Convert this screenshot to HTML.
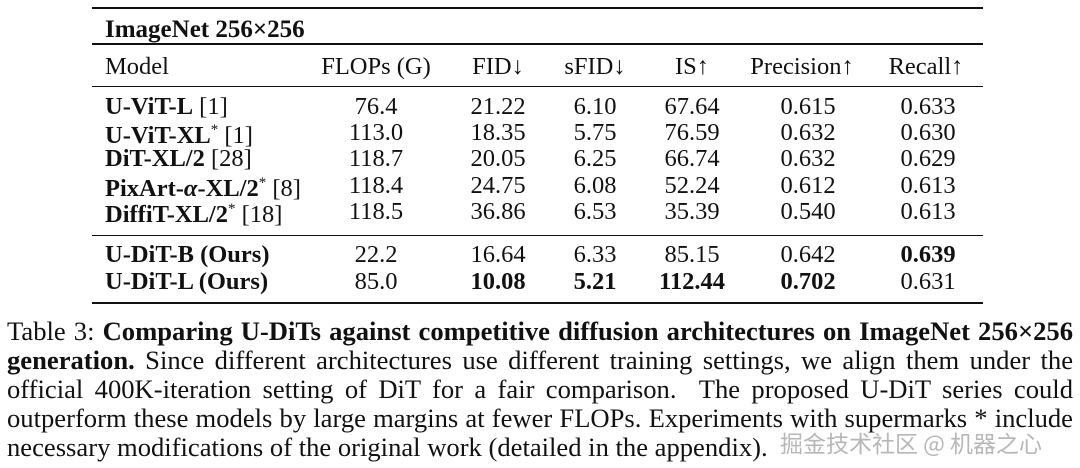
<!DOCTYPE html>
<html><head><meta charset="utf-8"><style>
body{margin:0;width:1080px;height:468px;background:#fff;position:relative;overflow:hidden;font-family:"Liberation Serif","Noto Serif CJK SC",serif;color:#111}
.l{position:absolute;left:92px;width:891px;background:#111}
.t{position:absolute;font-size:24.5px;line-height:26px;white-space:nowrap;transform:translateY(-50%)}
.c{transform:translate(-50%,-50%)}
b{font-weight:bold}
.cap{position:absolute;left:7px;width:1066px;font-size:26.6px;line-height:29px;text-align:justify;top:317px}
.cap div{height:29px;text-align-last:justify;white-space:nowrap;}
.wm{position:absolute;left:780px;top:425px;font-family:"Noto Sans CJK SC",sans-serif;font-size:23px;color:rgba(170,170,170,0.85)}
</style></head><body>
<div class="l" style="top:7px;height:2px"></div>
<div class="l" style="top:43px;height:1.5px"></div>
<div class="l" style="top:86px;height:1px"></div>
<div class="l" style="top:235px;height:1px"></div>
<div class="l" style="top:302px;height:2px"></div>

<div class="t" style="left:105px;top:30px;font-size:25px"><b>ImageNet 256×256</b></div>
<div class="t" style="left:105px;top:67px">Model</div>
<div class="t c" style="left:376px;top:67px">FLOPs (G)</div>
<div class="t c" style="left:498px;top:67px">FID↓</div>
<div class="t c" style="left:595px;top:67px">sFID↓</div>
<div class="t c" style="left:692px;top:67px">IS↑</div>
<div class="t c" style="left:802px;top:67px">Precision↑</div>
<div class="t c" style="left:926px;top:67px">Recall↑</div>

<div class="t" style="left:105px;top:107px"><b>U-ViT-L</b> [1]</div>
<div class="t" style="left:105px;top:133px"><b>U-ViT-XL</b><sup style="font-size:15px">*</sup> [1]</div>
<div class="t" style="left:105px;top:159px"><b>DiT-XL/2</b> [28]</div>
<div class="t" style="left:105px;top:186px"><b>PixArt-<i>α</i>-XL/2</b><sup style="font-size:15px">*</sup> [8]</div>
<div class="t" style="left:105px;top:212px"><b>DiffiT-XL/2</b><sup style="font-size:15px">*</sup> [18]</div>
<div class="t" style="left:105px;top:255px"><b>U-DiT-B (Ours)</b></div>
<div class="t" style="left:105px;top:282px"><b>U-DiT-L (Ours)</b></div>

<div class="t c" style="left:376px;top:107px">76.4</div>
<div class="t c" style="left:376px;top:133px">113.0</div>
<div class="t c" style="left:376px;top:159px">118.7</div>
<div class="t c" style="left:376px;top:186px">118.4</div>
<div class="t c" style="left:376px;top:212px">118.5</div>
<div class="t c" style="left:376px;top:255px">22.2</div>
<div class="t c" style="left:376px;top:282px">85.0</div>

<div class="t c" style="left:498px;top:107px">21.22</div>
<div class="t c" style="left:498px;top:133px">18.35</div>
<div class="t c" style="left:498px;top:159px">20.05</div>
<div class="t c" style="left:498px;top:186px">24.75</div>
<div class="t c" style="left:498px;top:212px">36.86</div>
<div class="t c" style="left:498px;top:255px">16.64</div>
<div class="t c" style="left:498px;top:282px"><b>10.08</b></div>

<div class="t c" style="left:595px;top:107px">6.10</div>
<div class="t c" style="left:595px;top:133px">5.75</div>
<div class="t c" style="left:595px;top:159px">6.25</div>
<div class="t c" style="left:595px;top:186px">6.08</div>
<div class="t c" style="left:595px;top:212px">6.53</div>
<div class="t c" style="left:595px;top:255px">6.33</div>
<div class="t c" style="left:595px;top:282px"><b>5.21</b></div>

<div class="t c" style="left:692px;top:107px">67.64</div>
<div class="t c" style="left:692px;top:133px">76.59</div>
<div class="t c" style="left:692px;top:159px">66.74</div>
<div class="t c" style="left:692px;top:186px">52.24</div>
<div class="t c" style="left:692px;top:212px">35.39</div>
<div class="t c" style="left:692px;top:255px">85.15</div>
<div class="t c" style="left:692px;top:282px"><b>112.44</b></div>

<div class="t c" style="left:808px;top:107px">0.615</div>
<div class="t c" style="left:808px;top:133px">0.632</div>
<div class="t c" style="left:808px;top:159px">0.632</div>
<div class="t c" style="left:808px;top:186px">0.612</div>
<div class="t c" style="left:808px;top:212px">0.540</div>
<div class="t c" style="left:808px;top:255px">0.642</div>
<div class="t c" style="left:808px;top:282px"><b>0.702</b></div>

<div class="t c" style="left:928px;top:107px">0.633</div>
<div class="t c" style="left:928px;top:133px">0.630</div>
<div class="t c" style="left:928px;top:159px">0.629</div>
<div class="t c" style="left:928px;top:186px">0.613</div>
<div class="t c" style="left:928px;top:212px">0.613</div>
<div class="t c" style="left:928px;top:255px"><b>0.639</b></div>
<div class="t c" style="left:928px;top:282px">0.631</div>

<div class="cap">
<div>Table 3: <b>Comparing U-DiTs against competitive diffusion architectures on ImageNet 256×256</b></div>
<div><b>generation.</b> Since different architectures use different training settings, we align them under the</div>
<div>official 400K-iteration setting of DiT for a fair comparison.&nbsp; The proposed U-DiT series could</div>
<div>outperform these models by large margins at fewer FLOPs. Experiments with supermarks * include</div>
<div style="text-align-last:left">necessary modifications of the original work (detailed in the appendix).</div>
</div>
<div class="wm">掘金技术社区 @ 机器之心</div>
</body></html>
